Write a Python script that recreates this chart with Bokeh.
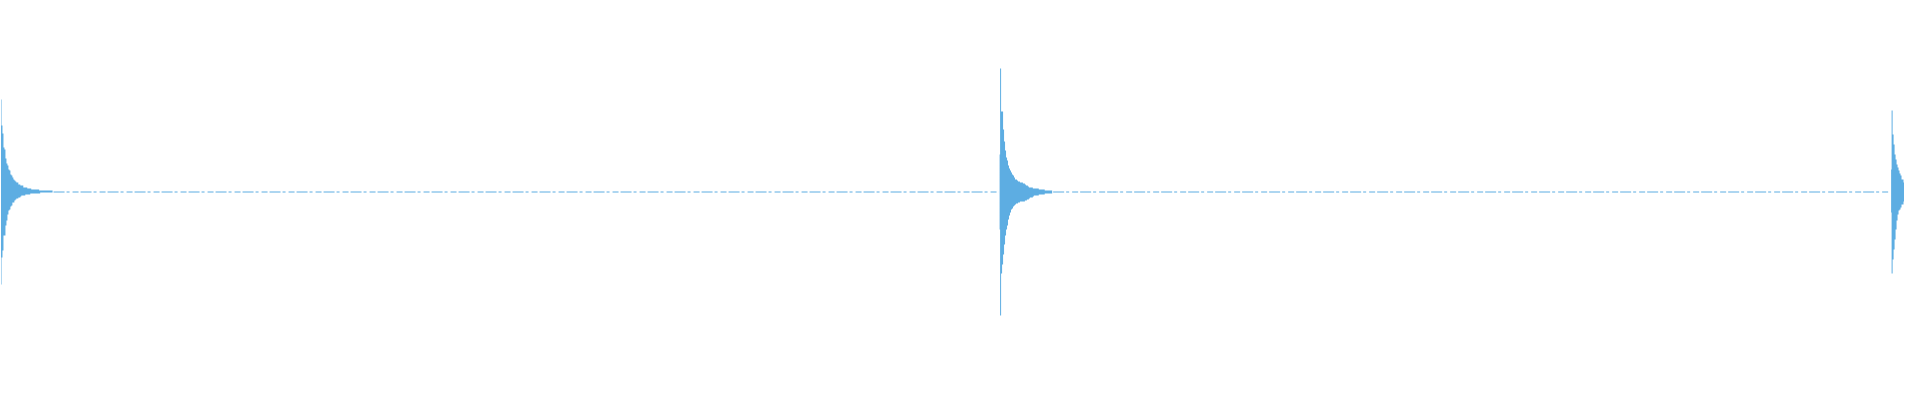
from bokeh.plotting import figure
from bokeh.models import Range1d
from bokeh.embed import file_html
from bokeh.resources import INLINE

# Waveform peak envelope, one value per pixel column (sample block).
# Three transients (onsets) with their decay: upper and lower peak amplitudes.
onset_cols = [0, 1007, 1906]

onset1_upper = [92, 66, 58, 44, 42, 33, 28, 26, 22, 21, 17, 16, 14, 12, 11, 10, 9, 9, 7, 7,
                6, 6, 6, 4, 4, 4, 4, 3, 3, 3, 3, 2, 2, 2, 2, 2, 2, 2, 2, 1,
                1, 1, 1, 1, 1, 1, 1, 1, 1, 1, 1, 1, 1]
onset1_lower = [93, 66, 59, 44, 44, 34, 29, 23, 19, 18, 15, 14, 11, 11, 9, 8, 7, 7, 6, 6,
                5, 4, 4, 4, 4, 3, 3, 3, 3, 3, 2, 2, 2, 2, 2, 2, 2, 2, 2, 2,
                1, 1, 1, 1, 1, 1, 1, 1, 1, 1, 1, 1, 1]

onset2_upper = [37, 123, 80, 80, 62, 50, 41, 34, 31, 26, 23, 21, 19, 17, 16, 14, 12, 12, 11, 10,
                10, 9, 9, 9, 8, 8, 7, 6, 6, 5, 4, 4, 4, 4, 3, 3, 3, 3, 3, 3,
                2, 2, 2, 2, 2, 2, 1, 1, 1, 1, 1, 1, 1, 1]
onset2_lower = [38, 124, 82, 73, 63, 53, 44, 38, 34, 28, 24, 21, 18, 17, 15, 14, 13, 12, 12, 11,
                11, 10, 10, 10, 10, 10, 9, 9, 8, 8, 7, 6, 6, 6, 5, 4, 4, 4, 4, 4,
                3, 3, 3, 3, 3, 3, 2, 2, 2, 2, 2, 2, 2, 2]

onset3_upper = [22, 81, 57, 47, 37, 32, 27, 24, 21, 18, 16, 12, 12, 9]
onset3_lower = [21, 82, 68, 58, 48, 38, 29, 23, 19, 18, 16, 13, 13, 10]

n_cols = 1920

# quiet stretches between the transients (faint noise floor)
quiet_x0 = [53, 1061]
quiet_x1 = [1006, 1905]

color = "#5DADE2"

p = figure(width=1904, height=384, output_backend="svg", toolbar_location=None,
           x_range=Range1d(-0.5, n_cols - 0.5), y_range=Range1d(-193, 191),
           min_border=0, min_border_left=0, min_border_right=0,
           min_border_top=0, min_border_bottom=0)
p.axis.visible = False
p.grid.visible = False
p.outline_line_color = None
p.background_fill_color = "white"
p.border_fill_color = "white"

p.segment(x0=quiet_x0, x1=quiet_x1, y0=[-0.5, -0.5], y1=[-0.5, -0.5],
          line_color=color, line_width=1, line_dash="11 2 3 3 6 2")

for start, up, lo in zip(onset_cols,
                         [onset1_upper, onset2_upper, onset3_upper],
                         [onset1_lower, onset2_lower, onset3_lower]):
    xs = [start + i for i in range(len(up))]
    p.varea_step(x=xs, y1=up, y2=[-v for v in lo], step_mode="center",
                 fill_color=color)

open("out.html", "w").write(file_html(p, INLINE))
